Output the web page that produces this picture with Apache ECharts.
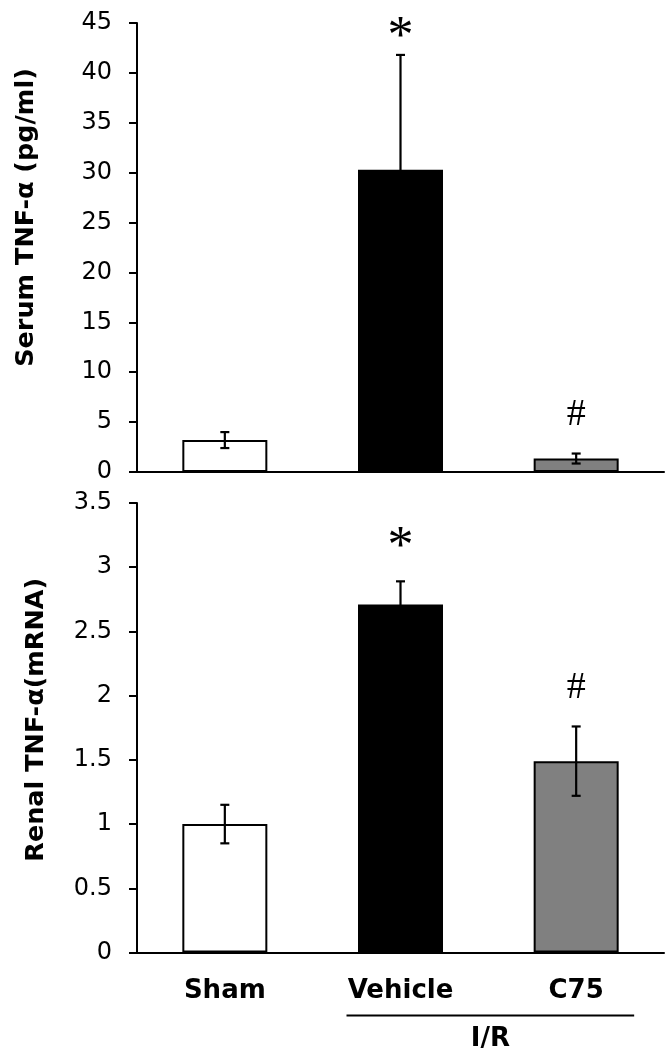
<!DOCTYPE html>
<html><head><meta charset="utf-8">
<script src="https://cdn.jsdelivr.net/npm/echarts@6/dist/echarts.min.js"></script>
<style>html,body{margin:0;padding:0;background:#fff}#c{width:668px;height:1050px}</style>
</head><body><div id="c"></div>
<script>
// ---- data ----
const categories = ['Sham', 'Vehicle', 'C75'];
const serumMean = [3.2, 30.3, 1.35];
const serumErr = [0.8, 11.5, 0.5];
const serumMarks = ['', '*', '#'];
const serumAxis = { min: 0, max: 45, interval: 5 };
const renalMean = [1.0, 2.71, 1.49];
const renalErr = [0.15, 0.18, 0.27];
const renalMarks = ['', '*', '#'];
const renalAxis = { min: 0, max: 3.5, interval: 0.5 };
const groupLabel = 'I/R';
const groupMembers = ['Vehicle', 'C75'];
const yNames = ['Serum TNF-\u03B1 (pg/ml)', 'Renal TNF-\u03B1(mRNA)'];

// ---- styles / layout ----
const barColors = ['#ffffff', '#000000', '#808080'];
const markGap = [[0, 27, 40], [0, 43, 39]];
const markFont = { '*': 52, '#': 38 };
const markShift = { '*': 10, '#': 1 };

const chart = echarts.init(document.getElementById('c'), null, { renderer: 'canvas' });

function yAxisCfg(idx, ax, name, gap, shiftUp) {
  return {
    gridIndex: idx, type: 'value', min: ax.min, max: ax.max, interval: ax.interval,
    name: name, nameLocation: 'middle', nameRotate: 90, nameGap: gap,
    nameTextStyle: { fontFamily: 'DejaVu Sans', fontWeight: 'bold', fontSize: 25.5, color: '#000', padding: [0, 0, 0, shiftUp * 2] },
    axisLine: { show: true, lineStyle: { color: '#000', width: 2 } },
    axisTick: { show: true, length: 8, lineStyle: { color: '#000', width: 2 } },
    axisLabel: { margin: 25, fontFamily: 'DejaVu Sans', fontSize: 24, color: '#000' },
    splitLine: { show: false }
  };
}
function xAxisCfg(idx, showLabel) {
  return {
    gridIndex: idx, type: 'category', data: categories,
    axisLine: { show: true, lineStyle: { color: '#000', width: 2 } },
    axisTick: { show: false },
    axisLabel: { show: showLabel, margin: 26, fontFamily: 'DejaVu Sans', fontWeight: 'bold', fontSize: 26, color: '#000' },
    splitLine: { show: false }
  };
}
function barSeries(idx, means) {
  return {
    type: 'bar', xAxisIndex: idx, yAxisIndex: idx, barWidth: 85, silent: true,
    itemStyle: { borderColor: '#000', borderWidth: 2 },
    data: means.map((v, i) => ({ value: v, itemStyle: { color: barColors[i] } }))
  };
}
function errSeries(idx, means, errs, marks) {
  return {
    type: 'custom', xAxisIndex: idx, yAxisIndex: idx, silent: true, z: 5,
    data: means.map((m, i) => [i, m, errs[i]]),
    renderItem: function (params, api) {
      const i = api.value(0), m = api.value(1), e = api.value(2);
      const top = api.coord([i, m + e]);
      const bot = api.coord([i, m - e]);
      const h = 4.5;
      const st = { stroke: '#000', lineWidth: 2.2 };
      const children = [
        { type: 'line', shape: { x1: top[0], y1: top[1], x2: bot[0], y2: bot[1] }, style: st },
        { type: 'line', shape: { x1: top[0] - h, y1: top[1], x2: top[0] + h, y2: top[1] }, style: st },
        { type: 'line', shape: { x1: bot[0] - h, y1: bot[1], x2: bot[0] + h, y2: bot[1] }, style: st }
      ];
      const mk = marks[i];
      if (mk) {
        children.push({
          type: 'text', x: top[0], y: top[1] - markGap[idx][i] + markShift[mk],
          style: { text: mk, fill: '#000', fontFamily: 'Liberation Serif', fontSize: markFont[mk], align: 'center', verticalAlign: 'middle' }
        });
      }
      return { type: 'group', children: children };
    }
  };
}

chart.setOption({
  animation: false,
  backgroundColor: '#fff',
  grid: [
    { left: 137, right: 4, top: 23, height: 449 },
    { left: 137, right: 4, top: 503, height: 449.5 }
  ],
  xAxis: [xAxisCfg(0, false), xAxisCfg(1, true)],
  yAxis: [yAxisCfg(0, serumAxis, yNames[0], 98, 30), yAxisCfg(1, renalAxis, yNames[1], 88, 8)],
  series: [
    barSeries(0, serumMean), errSeries(0, serumMean, serumErr, serumMarks),
    barSeries(1, renalMean), errSeries(1, renalMean, renalErr, renalMarks)
  ]
});

// group bracket under Vehicle / C75
const xa = chart.convertToPixel({ xAxisIndex: 1 }, groupMembers[0]);
const xb = chart.convertToPixel({ xAxisIndex: 1 }, groupMembers[1]);
const y0 = chart.convertToPixel({ yAxisIndex: 1 }, 0);
const lineY = y0 + 63;
chart.setOption({
  graphic: [
    { type: 'line', shape: { x1: xa - 54, y1: lineY, x2: xb + 58, y2: lineY }, style: { stroke: '#000', lineWidth: 2 }, silent: true },
    { type: 'text', x: (xa - 54 + xb + 58) / 2, y: lineY + 11, style: { text: groupLabel, fill: '#000', fontFamily: 'DejaVu Sans', fontWeight: 'bold', fontSize: 26, align: 'center', verticalAlign: 'top' }, silent: true }
  ]
});
</script></body></html>
